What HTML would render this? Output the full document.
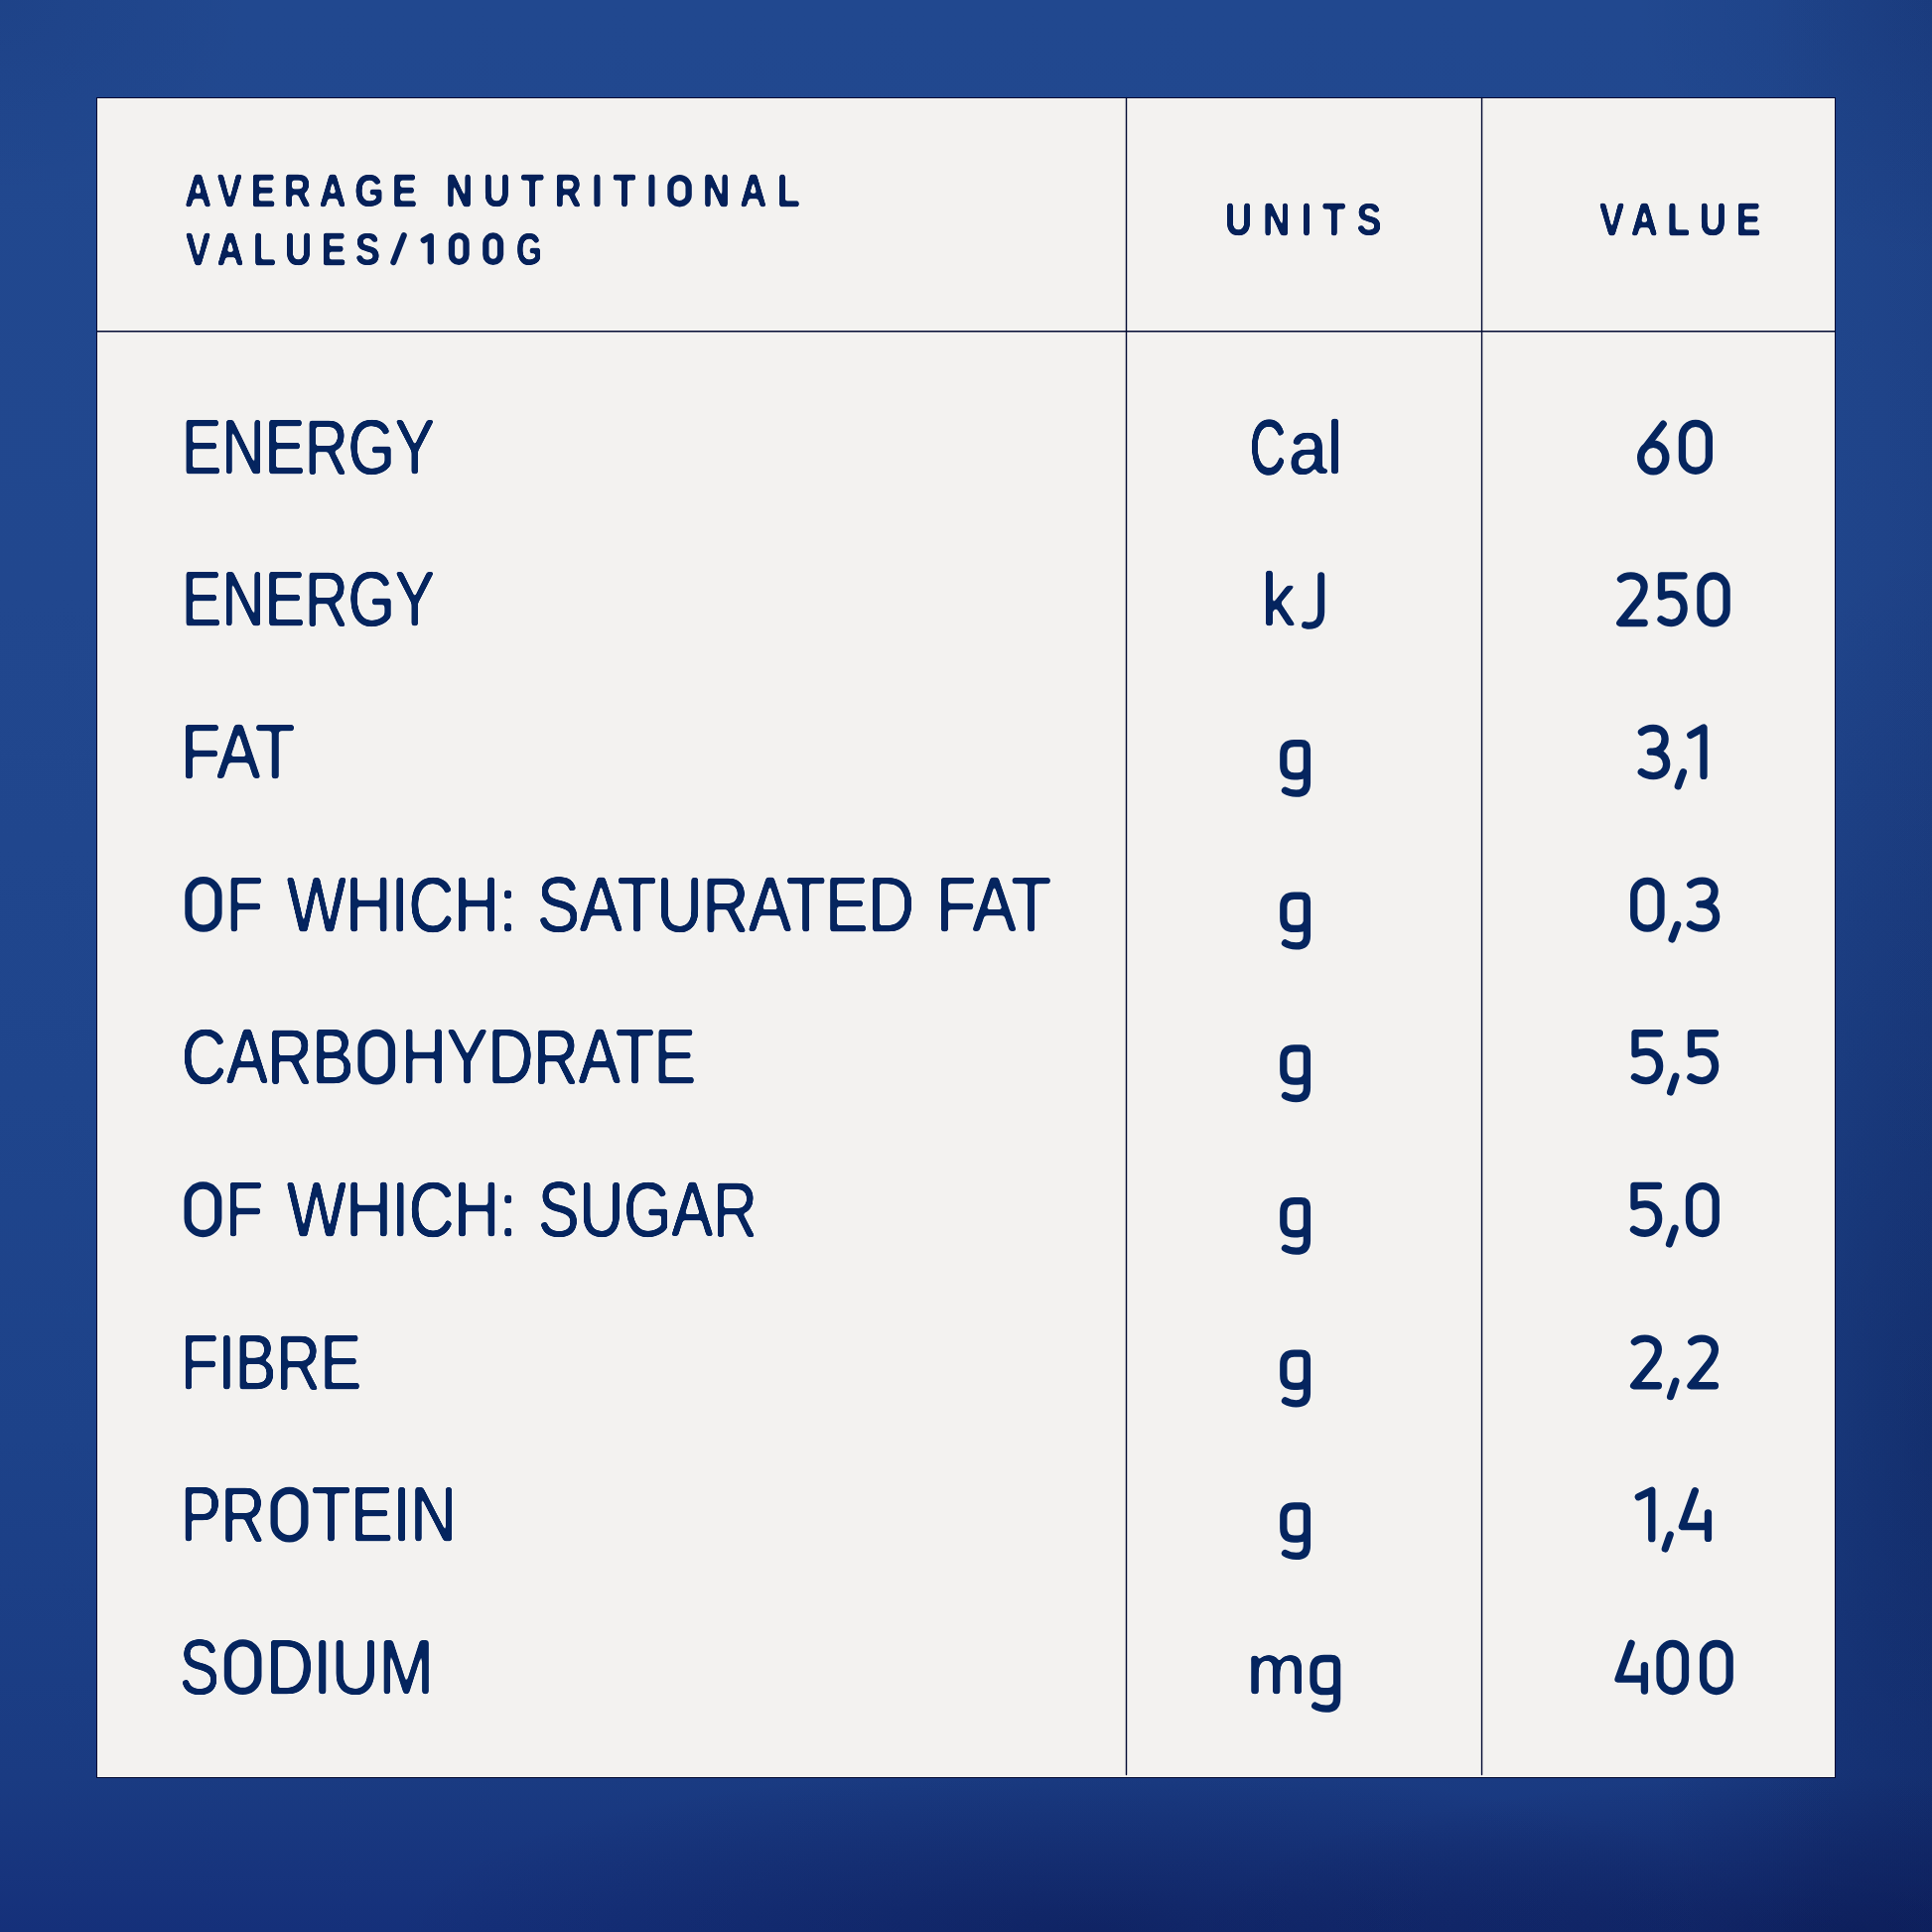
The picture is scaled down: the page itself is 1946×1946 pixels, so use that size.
<!DOCTYPE html>
<html><head><meta charset="utf-8"><title>Average nutritional values</title>
<style>
html,body{margin:0;padding:0;width:1946px;height:1946px;overflow:hidden}
body{position:relative;background:#20468d;font-family:"Liberation Sans",sans-serif}
#bg{position:absolute;left:0;top:0;width:1946px;height:1946px;background:radial-gradient(ellipse 700px 170px at 1100px 1946px,rgba(4,8,50,0.30),rgba(4,8,50,0) 100%),radial-gradient(ellipse 650px 160px at 1850px 1946px,rgba(4,8,50,0.32),rgba(4,8,50,0) 100%),radial-gradient(ellipse 300px 900px at 1946px 1450px,rgba(2,12,60,0.28),rgba(2,12,60,0) 100%),radial-gradient(ellipse 300px 260px at 1946px 0,rgba(4,20,75,0.15),rgba(4,20,75,0) 100%),radial-gradient(ellipse 250px 200px at 0 0,rgba(4,20,75,0.10),rgba(4,20,75,0) 100%),linear-gradient(90deg,rgba(4,14,62,0) 1780px,rgba(4,14,62,0.10) 1946px),linear-gradient(180deg,#21488f 0,#21478e 600px,#1f458c 1100px,#1d4289 1450px,#1a3b82 1790px,#15307a 1946px)}
#card{position:absolute;left:97px;top:98px;width:1752px;height:1693px;background:#f3f2f0;box-sizing:border-box;border:1px solid #020a32;border-right-color:#020a32}
.ln{position:absolute;background:#020a32}
.b,.h{position:absolute;line-height:1;white-space:pre;transform-origin:0 0;color:#05255f}
.b{font-weight:400;-webkit-text-stroke:0.3px #05255f;text-shadow:0.45px 0 0 #05255f,-0.45px 0 0 #05255f}
.h{font-weight:700;color:#05215a;-webkit-text-stroke:0.6px #05215a}
.b,.h{filter:url(#rnd)}
#ov{position:absolute;left:0;top:0}
</style></head><body>
<svg width="0" height="0" style="position:absolute"><defs><filter id="rnd" x="-5%" y="-20%" width="110%" height="140%" color-interpolation-filters="sRGB"><feGaussianBlur stdDeviation="1.6"/><feComponentTransfer><feFuncA type="linear" slope="5" intercept="-2.0"/></feComponentTransfer></filter></defs></svg>
<div id="bg"></div>
<div id="card"></div>
<svg id="grid" width="1946" height="1946" viewBox="0 0 1946 1946" style="position:absolute;left:0;top:0" stroke="#020a32" fill="none">
<line x1="98" y1="333.7" x2="1848" y2="333.7" stroke-width="1.6"/>
<line x1="1134.5" y1="98.5" x2="1134.5" y2="1787.5" stroke-width="1.4" stroke-linecap="round"/>
<line x1="1492.55" y1="98.5" x2="1492.55" y2="1787.5" stroke-width="1.4" stroke-linecap="round"/>
</svg>
<div class="b" style="left:182.87px;top:410.67px;font-size:78.50px;transform:scaleX(0.7690);letter-spacing:0.0000em">ENERGY</div>
<div class="b" style="left:1258.71px;top:410.67px;font-size:78.50px;transform:scaleX(0.6340);letter-spacing:0.0000em;-webkit-text-stroke-width:1.70px">C</div>
<div class="b" style="left:1298.26px;top:410.67px;font-size:78.50px;transform-origin:0 0.845em;transform:scale(0.8871,0.9629);letter-spacing:0.0000em">al</div>
<div class="b" style="left:182.87px;top:564.32px;font-size:78.50px;transform:scaleX(0.7690);letter-spacing:0.0000em">ENERGY</div>
<div class="b" style="left:1271.11px;top:564.32px;font-size:78.50px;transform-origin:0 0.845em;transform:scale(0.8473,0.9673);letter-spacing:0.0000em">k</div>
<div class="b" style="left:182.09px;top:717.97px;font-size:78.50px;transform:scaleX(0.8340);letter-spacing:0.0000em">FAT</div>
<div class="b" style="left:228.36px;top:871.62px;font-size:78.50px;transform:scaleX(0.7720);letter-spacing:0.0000em">F</div>
<div class="b" style="left:288.80px;top:871.62px;font-size:78.50px;transform:scaleX(0.8038);letter-spacing:0.0000em">WHICH:</div>
<div class="b" style="left:541.43px;top:871.62px;font-size:78.50px;transform:scaleX(0.8190);letter-spacing:0.0000em">SATURATED</div>
<div class="b" style="left:943.46px;top:871.62px;font-size:78.50px;transform:scaleX(0.8385);letter-spacing:0.0000em">FAT</div>
<div class="b" style="left:182.99px;top:1025.27px;font-size:78.50px;transform:scaleX(0.7942);letter-spacing:0.0000em">CARB</div>
<div class="b" style="left:403.57px;top:1025.27px;font-size:78.50px;transform:scaleX(0.8040);letter-spacing:0.0000em">HYDRATE</div>
<div class="b" style="left:227.44px;top:1178.92px;font-size:78.50px;transform:scaleX(0.7924);letter-spacing:0.0000em">F</div>
<div class="b" style="left:288.50px;top:1178.92px;font-size:78.50px;transform:scaleX(0.8049);letter-spacing:0.0000em">WHICH:</div>
<div class="b" style="left:541.72px;top:1178.92px;font-size:78.50px;transform:scaleX(0.7911);letter-spacing:0.0000em">SUGAR</div>
<div class="b" style="left:182.37px;top:1332.57px;font-size:78.50px;transform:scaleX(0.7872);letter-spacing:0.0000em">FIBRE</div>
<div class="b" style="left:182.41px;top:1486.22px;font-size:78.50px;transform:scaleX(0.7794);letter-spacing:0.0000em">PR</div>
<div class="b" style="left:314.24px;top:1486.22px;font-size:78.50px;transform:scaleX(0.8151);letter-spacing:0.0000em">TEIN</div>
<div class="b" style="left:181.42px;top:1639.87px;font-size:78.50px;transform:scaleX(0.7578);letter-spacing:0.0000em">S</div>
<div class="b" style="left:267.95px;top:1639.87px;font-size:78.50px;transform:scaleX(0.8406);letter-spacing:0.0000em">DIUM</div>
<div class="b" style="left:1255.64px;top:1639.87px;font-size:78.50px;transform-origin:0 0.845em;transform:scale(0.9051,0.9318);letter-spacing:0.0000em">m</div>
<div class="h" style="left:186.24px;top:169.31px;font-size:46.40px;transform:scaleX(0.8104);letter-spacing:0.2255em">AVERAGE</div>
<div class="h" style="left:448.75px;top:169.31px;font-size:46.40px;transform:scaleX(0.8099);letter-spacing:0.2858em">NUTRITI</div>
<div class="h" style="left:707.65px;top:169.31px;font-size:46.40px;transform:scaleX(0.8098);letter-spacing:0.2722em">NAL</div>
<div class="h" style="left:186.70px;top:227.71px;font-size:46.40px;transform:scaleX(0.8101);letter-spacing:0.2461em">VALUES</div>
<div class="h" style="left:520.04px;top:227.71px;font-size:46.40px;transform:scaleX(0.7173);letter-spacing:0.0000em">G</div>
<div class="h" style="left:1234.14px;top:198.41px;font-size:46.40px;transform:scaleX(0.8091);letter-spacing:0.2989em">UNITS</div>
<div class="h" style="left:1610.90px;top:198.41px;font-size:46.40px;transform:scaleX(0.8094);letter-spacing:0.2529em">VALUE</div>
<svg id="ov" width="1946" height="1946" viewBox="0 0 1946 1946" fill="none" stroke-linecap="round" stroke-linejoin="round">
<path d="M1695.40 777.80 L1690.30 791.70" stroke="#05255f" stroke-width="7.30"/>
<path d="M1689.60 931.40 L1684.10 945.90" stroke="#05255f" stroke-width="7.30"/>
<path d="M1687.80 1084.30 L1682.60 1099.90" stroke="#05255f" stroke-width="7.30"/>
<path d="M1687.00 1237.30 L1681.50 1252.90" stroke="#05255f" stroke-width="7.30"/>
<path d="M1687.80 1391.30 L1682.60 1406.60" stroke="#05255f" stroke-width="7.30"/>
<path d="M1682.20 1545.90 L1677.30 1559.90" stroke="#05255f" stroke-width="7.30"/>
<path d="M1702.80 740.35 L1716.00 732.95 L1716.00 781.45" stroke="#05255f" stroke-width="7.30"/>
<path d="M1650.35 1507.80 L1663.75 1501.20 L1663.75 1549.70" stroke="#05255f" stroke-width="7.30"/>
<path d="M396.30 264.10 L406.80 237.10" stroke="#05215a" stroke-width="6.00"/>
<path d="M426.80 242.00 L433.80 237.95 L433.80 263.35" stroke="#05215a" stroke-width="6.30"/>
<path d="M1330.7 579.8 L1330.7 616.5 Q1330.7 630.6 1317.5 630.2 L1314.6 629.6" stroke="#05255f" stroke-width="7.00"/>
<path d="M1316.40 774.50 Q1315.20 781.80 1307.00 781.80 L1303.50 781.80 Q1292.80 781.80 1292.80 771.00 L1292.80 759.50 Q1292.80 748.60 1303.50 748.60 L1310.50 748.60 Q1316.40 748.60 1316.40 754.50 L1316.40 789.00 Q1316.40 799.20 1305.50 799.20 Q1299.00 799.20 1294.50 796.30" stroke="#05255f" stroke-width="7.30"/>
<path d="M1316.40 928.15 Q1315.20 935.45 1307.00 935.45 L1303.50 935.45 Q1292.80 935.45 1292.80 924.65 L1292.80 913.15 Q1292.80 902.25 1303.50 902.25 L1310.50 902.25 Q1316.40 902.25 1316.40 908.15 L1316.40 942.65 Q1316.40 952.85 1305.50 952.85 Q1299.00 952.85 1294.50 949.95" stroke="#05255f" stroke-width="7.30"/>
<path d="M1316.40 1081.80 Q1315.20 1089.10 1307.00 1089.10 L1303.50 1089.10 Q1292.80 1089.10 1292.80 1078.30 L1292.80 1066.80 Q1292.80 1055.90 1303.50 1055.90 L1310.50 1055.90 Q1316.40 1055.90 1316.40 1061.80 L1316.40 1096.30 Q1316.40 1106.50 1305.50 1106.50 Q1299.00 1106.50 1294.50 1103.60" stroke="#05255f" stroke-width="7.30"/>
<path d="M1316.40 1235.45 Q1315.20 1242.75 1307.00 1242.75 L1303.50 1242.75 Q1292.80 1242.75 1292.80 1231.95 L1292.80 1220.45 Q1292.80 1209.55 1303.50 1209.55 L1310.50 1209.55 Q1316.40 1209.55 1316.40 1215.45 L1316.40 1249.95 Q1316.40 1260.15 1305.50 1260.15 Q1299.00 1260.15 1294.50 1257.25" stroke="#05255f" stroke-width="7.30"/>
<path d="M1316.40 1389.10 Q1315.20 1396.40 1307.00 1396.40 L1303.50 1396.40 Q1292.80 1396.40 1292.80 1385.60 L1292.80 1374.10 Q1292.80 1363.20 1303.50 1363.20 L1310.50 1363.20 Q1316.40 1363.20 1316.40 1369.10 L1316.40 1403.60 Q1316.40 1413.80 1305.50 1413.80 Q1299.00 1413.80 1294.50 1410.90" stroke="#05255f" stroke-width="7.30"/>
<path d="M1316.40 1542.75 Q1315.20 1550.05 1307.00 1550.05 L1303.50 1550.05 Q1292.80 1550.05 1292.80 1539.25 L1292.80 1527.75 Q1292.80 1516.85 1303.50 1516.85 L1310.50 1516.85 Q1316.40 1516.85 1316.40 1522.75 L1316.40 1557.25 Q1316.40 1567.45 1305.50 1567.45 Q1299.00 1567.45 1294.50 1564.55" stroke="#05255f" stroke-width="7.30"/>
<path d="M1346.60 1696.40 Q1345.40 1703.70 1337.20 1703.70 L1333.70 1703.70 Q1323.00 1703.70 1323.00 1692.90 L1323.00 1681.40 Q1323.00 1670.50 1333.70 1670.50 L1340.70 1670.50 Q1346.60 1670.50 1346.60 1676.40 L1346.60 1710.90 Q1346.60 1721.10 1335.70 1721.10 Q1329.20 1721.10 1324.70 1718.20" stroke="#05255f" stroke-width="7.30"/>
<path d="M454.95 244.75 A7.30 7.30 0 0 1 469.55 244.75 L469.55 256.55 A7.30 7.30 0 0 1 454.95 256.55 Z" stroke="#05215a" stroke-width="6.30"/>
<path d="M489.35 244.80 A7.35 7.35 0 0 1 504.05 244.80 L504.05 256.50 A7.35 7.35 0 0 1 489.35 256.50 Z" stroke="#05215a" stroke-width="6.30"/>
<path d="M189.95 901.70 A15.00 15.00 0 0 1 219.95 901.70 L219.95 920.20 A15.00 15.00 0 0 1 189.95 920.20 Z" stroke="#05255f" stroke-width="7.30"/>
<path d="M189.15 1209.30 A15.30 15.30 0 0 1 219.75 1209.30 L219.75 1227.20 A15.30 15.30 0 0 1 189.15 1227.20 Z" stroke="#05255f" stroke-width="7.30"/>
<path d="M364.05 1055.55 A15.20 15.20 0 0 1 394.45 1055.55 L394.45 1073.65 A15.20 15.20 0 0 1 364.05 1073.65 Z" stroke="#05255f" stroke-width="7.30"/>
<path d="M276.15 1516.65 A15.35 15.35 0 0 1 306.85 1516.65 L306.85 1534.45 A15.35 15.35 0 0 1 276.15 1534.45 Z" stroke="#05255f" stroke-width="7.30"/>
<path d="M229.45 1670.15 A15.20 15.20 0 0 1 259.85 1670.15 L259.85 1688.25 A15.20 15.20 0 0 1 229.45 1688.25 Z" stroke="#05255f" stroke-width="7.30"/>
<path d="M675.45 188.25 A9.10 9.10 0 0 1 693.65 188.25 L693.65 196.15 A9.10 9.10 0 0 1 675.45 196.15 Z" stroke="#05215a" stroke-width="6.30"/>
<path d="M 1675.20 427.10 L 1655.40 453.10 M 1652.65 461.10 A 12.60 13.85 0 1 0 1677.85 461.10 A 12.60 13.85 0 1 0 1652.65 461.10" stroke="#05255f" stroke-width="7.30"/>
<path d="M 1694.42 439.90 A 13.48 13.60 0 0 1 1721.38 439.90 L 1721.38 460.70 A 13.48 13.60 0 0 1 1694.42 460.70 Z" stroke="#05255f" stroke-width="7.30"/>
<path d="M 1632.53 583.35 C 1635.29 580.85 1638.63 579.80 1642.77 579.80 C 1650.45 579.80 1656.11 584.35 1656.11 591.05 C 1656.11 595.75 1653.99 599.55 1650.94 603.75 L 1631.79 627.50 L 1656.16 627.50" stroke="#05255f" stroke-width="7.30"/>
<path d="M 1696.01 579.80 L 1673.49 579.80 L 1673.49 600.75 C 1676.62 599.05 1679.74 598.35 1683.42 598.35 C 1691.05 598.35 1696.15 604.65 1696.15 612.85 C 1696.15 621.45 1690.68 627.65 1683.60 627.65 C 1679.65 627.65 1676.07 626.25 1673.03 623.85" stroke="#05255f" stroke-width="7.30"/>
<path d="M 1712.91 593.55 A 13.09 13.60 0 0 1 1739.09 593.55 L 1739.09 614.35 A 13.09 13.60 0 0 1 1712.91 614.35 Z" stroke="#05255f" stroke-width="7.30"/>
<path d="M 1653.49 737.40 C 1656.69 734.80 1660.77 733.45 1665.13 733.45 C 1672.31 733.45 1677.11 737.80 1677.11 744.20 C 1677.11 751.80 1671.34 757.20 1664.55 757.20 L 1662.37 757.20 M 1664.55 757.20 C 1672.89 757.20 1678.66 762.40 1678.66 769.70 C 1678.66 777.00 1672.79 781.55 1665.32 781.55 C 1660.77 781.55 1656.69 780.10 1653.30 777.50" stroke="#05255f" stroke-width="7.30"/>
<path d="M 1645.75 900.85 A 13.60 13.60 0 0 1 1672.95 900.85 L 1672.95 921.65 A 13.60 13.60 0 0 1 1645.75 921.65 Z" stroke="#05255f" stroke-width="7.30"/>
<path d="M 1702.70 891.05 C 1706.00 888.45 1710.20 887.10 1714.70 887.10 C 1722.10 887.10 1727.05 891.45 1727.05 897.85 C 1727.05 905.45 1721.10 910.85 1714.10 910.85 L 1711.85 910.85 M 1714.10 910.85 C 1722.70 910.85 1728.65 916.05 1728.65 923.35 C 1728.65 930.65 1722.60 935.20 1714.90 935.20 C 1710.20 935.20 1706.00 933.75 1702.50 931.15" stroke="#05255f" stroke-width="7.30"/>
<path d="M 1671.50 1040.75 L 1647.00 1040.75 L 1647.00 1061.70 C 1650.40 1060.00 1653.80 1059.30 1657.80 1059.30 C 1666.10 1059.30 1671.65 1065.60 1671.65 1073.80 C 1671.65 1082.40 1665.70 1088.60 1658.00 1088.60 C 1653.70 1088.60 1649.80 1087.20 1646.50 1084.80" stroke="#05255f" stroke-width="7.30"/>
<path d="M 1727.47 1040.75 L 1703.43 1040.75 L 1703.43 1061.70 C 1706.77 1060.00 1710.10 1059.30 1714.03 1059.30 C 1722.17 1059.30 1727.62 1065.60 1727.62 1073.80 C 1727.62 1082.40 1721.78 1088.60 1714.22 1088.60 C 1710.00 1088.60 1706.18 1087.20 1702.94 1084.80" stroke="#05255f" stroke-width="7.30"/>
<path d="M 1670.50 1194.40 L 1646.00 1194.40 L 1646.00 1215.35 C 1649.40 1213.65 1652.80 1212.95 1656.80 1212.95 C 1665.10 1212.95 1670.65 1219.25 1670.65 1227.45 C 1670.65 1236.05 1664.70 1242.25 1657.00 1242.25 C 1652.70 1242.25 1648.80 1240.85 1645.50 1238.45" stroke="#05255f" stroke-width="7.30"/>
<path d="M 1701.49 1208.15 A 13.36 13.60 0 0 1 1728.21 1208.15 L 1728.21 1228.95 A 13.36 13.60 0 0 1 1701.49 1228.95 Z" stroke="#05255f" stroke-width="7.30"/>
<path d="M 1646.40 1351.60 C 1649.20 1349.10 1652.60 1348.05 1656.80 1348.05 C 1664.60 1348.05 1670.35 1352.60 1670.35 1359.30 C 1670.35 1364.00 1668.20 1367.80 1665.10 1372.00 L 1645.65 1395.75 L 1670.40 1395.75" stroke="#05255f" stroke-width="7.30"/>
<path d="M 1703.75 1351.60 C 1706.51 1349.10 1709.87 1348.05 1714.02 1348.05 C 1721.72 1348.05 1727.40 1352.60 1727.40 1359.30 C 1727.40 1364.00 1725.27 1367.80 1722.21 1372.00 L 1703.00 1395.75 L 1727.44 1395.75" stroke="#05255f" stroke-width="7.30"/>
<path d="M 1707.30 1501.70 L 1694.40 1537.50 L 1720.45 1537.50 M 1720.45 1523.95 L 1720.45 1549.40" stroke="#05255f" stroke-width="7.30"/>
<path d="M 1643.10 1655.35 L 1630.04 1691.15 L 1656.41 1691.15 M 1656.41 1677.60 L 1656.41 1703.05" stroke="#05255f" stroke-width="7.30"/>
<path d="M 1672.02 1669.10 A 12.73 13.60 0 0 1 1697.48 1669.10 L 1697.48 1689.90 A 12.73 13.60 0 0 1 1672.02 1689.90 Z" stroke="#05255f" stroke-width="7.30"/>
<path d="M 1715.57 1669.10 A 13.28 13.60 0 0 1 1742.13 1669.10 L 1742.13 1689.90 A 13.28 13.60 0 0 1 1715.57 1689.90 Z" stroke="#05255f" stroke-width="7.30"/>
</svg>
</body></html>
